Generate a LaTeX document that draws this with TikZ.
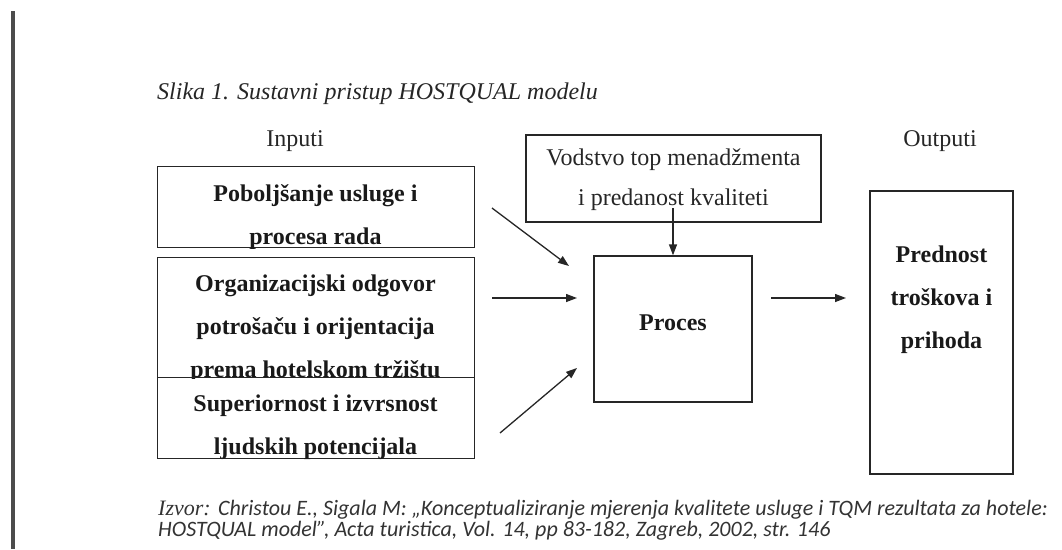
\documentclass[tikz,border=0pt]{standalone}
\usepackage{fontspec}
\setmainfont{Liberation Serif}
\newfontfamily\srcfont{Carlito}
\usetikzlibrary{arrows.meta, positioning}

\begin{document}
\begin{tikzpicture}[x=1pt, y=-1pt,
        box/.style={draw=black!85, line width=1.3pt, inner sep=0pt},
        boxtext/.style={font=\fontsize{24}{43}\selectfont\bfseries, align=center, inner sep=0pt, text=black!90},
        plaintext/.style={font=\fontsize{24}{40}\selectfont, align=center, inner sep=0pt, text=black!85},
        flow/.style={draw=black!85, line width=1.3pt, -{Triangle[length=11pt, width=8pt]}}]

            % Settings
            \def\inleft{157}
            \def\inwidth{317}

            \useasboundingbox (0,0) rectangle (1062,549);
            \fill[black!70] (11,11) rectangle (15,549);

            % Caption and headings
            \node[font=\fontsize{24}{28}\selectfont\itshape, anchor=base west, inner sep=0pt, text=black!85] (caption) at (157,99) {Slika 1. Sustavni pristup HOSTQUAL modelu};
            \node[plaintext, anchor=base] (inputi) at (295,146) {Inputi};
            \node[plaintext, anchor=base] (outputi) at (940,146) {Outputi};

            % Input boxes, text cut off at the lower edge
            \foreach \name/\ytop/\ybot/\txt in {in1/166/247/{Poboljšanje usluge i\\procesa rada},
                    in2/257/377/{Organizacijski odgovor\\potrošaču i orijentacija\\prema hotelskom tržištu},
                    in3/377/458/{Superiornost i izvrsnost\\ljudskih potencijala}} {
                    % Draw input box
                    \node[box, anchor=north west, minimum width=\inwidth, minimum height=\ybot-\ytop] (\name) at (\inleft,\ytop) {};
                    % Label it, clipped to the box
                    \begin{scope}
                        \clip (\name.north west) rectangle (\name.south east);
                        \node[boxtext, anchor=north] at (\inleft+\inwidth/2, \ytop+18) {\txt};
                    \end{scope}
                }

            % Leadership, process and output
            \node[box, minimum width=295, minimum height=87] (vodstvo) at (673.5,178.5) {};
            \node[plaintext] (vodstvotext) at (673.5,180) {Vodstvo top menadžmenta\\i predanost kvaliteti};
            \node[box, minimum width=158, minimum height=146] (proces) at (673,329) {};
            \node[boxtext] (procestext) at (673,323) {Proces};
            \node[box, minimum width=143, minimum height=283] (output) at (941.5,332.5) {};
            \node[boxtext] (outputtext) at (941.5,300) {Prednost\\troškova i\\prihoda};

            % Arrows
            \coordinate (a1) at (492,208);
            \coordinate (b1) at (569,266);
            \coordinate (a2) at (492,298);
            \coordinate (b2) at (577,298);
            \coordinate (a3) at (500,433);
            \coordinate (b3) at (577,368);
            \coordinate (v) at (673,208);
            \coordinate (a4) at (771,298);
            \coordinate (b4) at (846,298);
            \draw[flow] (a1) -- (b1);
            \draw[flow] (a2) -- (b2);
            \draw[flow] (a3) -- (b3);
            \draw[flow] (v) -- (proces.north);
            \draw[flow] (a4) -- (b4);

            % Source
            \node[font=\fontsize{22}{22}\selectfont, anchor=base west, inner sep=0pt, text=black!80] (izvor) at (158,515) {\itshape Izvor: \srcfont\itshape Christou E., Sigala M: „Konceptualiziranje mjerenja kvalitete usluge i TQM rezultata za hotele:};
            \node[font=\srcfont\fontsize{22}{22}\selectfont\itshape, anchor=base west, inner sep=0pt, text=black!80] (izvor2) at (158,536) {HOSTQUAL model”, Acta turistica, Vol. 14, pp 83-182, Zagreb, 2002, str. 146};
        \end{tikzpicture}
\end{document}
